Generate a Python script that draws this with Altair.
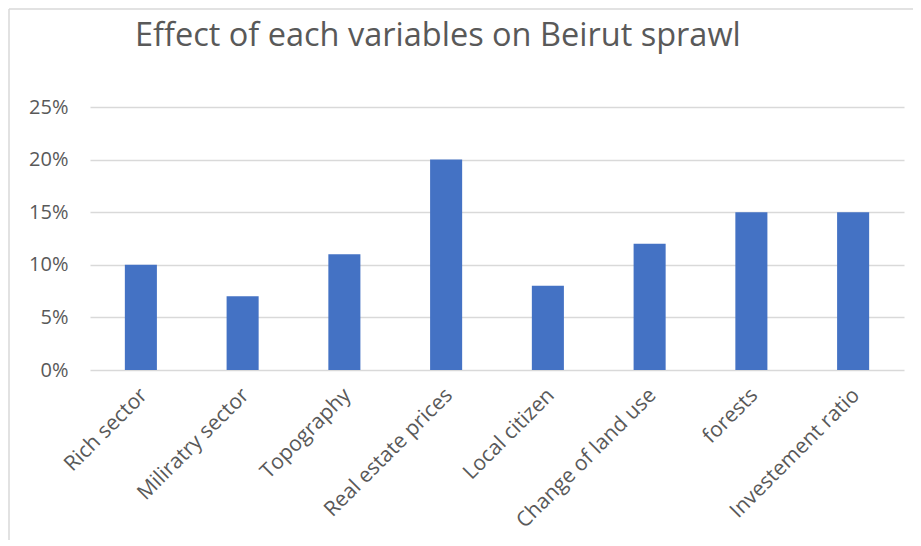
import altair as alt
import pandas as pd

categories = ["Rich sector", "Miliratry sector", "Topography", "Real estate prices",
              "Local citizen", "Change of land use", "forests", "Investement ratio"]
values = [0.10, 0.07, 0.11, 0.20, 0.08, 0.12, 0.15, 0.15]
y_ticks = [0, 0.05, 0.10, 0.15, 0.20, 0.25]
title_text = "Effect of each variables on Beirut sprawl"

df = pd.DataFrame({"variable": categories, "effect": values})

FONT = "Open Sans"
TXT = "#595959"

bars = alt.Chart(df).mark_bar(color="#4472C4").encode(
    x=alt.X("variable:N", sort=categories,
            scale=alt.Scale(paddingInner=0.685, paddingOuter=0.3425),
            axis=alt.Axis(title=None, labelAngle=-45, labelFont=FONT, labelFontSize=21,
                          labelColor=TXT, ticks=False, domain=False, labelPadding=14,
                          tickOffset=-5, labelOverlap=False, labelLimit=400)),
    y=alt.Y("effect:Q", scale=alt.Scale(domain=[0, 0.25], nice=False),
            axis=alt.Axis(title=None, format=".0%", values=y_ticks, labelFont=FONT,
                          labelFontSize=20, labelColor=TXT, ticks=False, domain=False,
                          labelPadding=22, gridColor="#D9D9D9", gridWidth=1.5)),
)

one = pd.DataFrame({"t": [title_text]})
left_border = alt.Chart(one).mark_rule(color="#D9D9D9", strokeWidth=1.5).encode(
    x=alt.value(-81), y=alt.value(-98), y2=alt.value(460))
top_border = alt.Chart(one).mark_rule(color="#D9D9D9", strokeWidth=1.5).encode(
    x=alt.value(-81), x2=alt.value(840), y=alt.value(-98))
title = alt.Chart(one).mark_text(font=FONT, fontSize=32.5, color=TXT, align="left",
                                 baseline="alphabetic").encode(
    text="t:N", x=alt.value(45), y=alt.value(-61))

chart = alt.layer(left_border, top_border, title, bars).properties(
    width=814, height=263,
    padding={"left": 82, "top": 99, "right": 9, "bottom": 170},
    autosize=alt.AutoSizeParams(type="none"),
).configure_view(stroke=None)

chart.save("out.html", embed_options={"renderer": "svg", "actions": False})
